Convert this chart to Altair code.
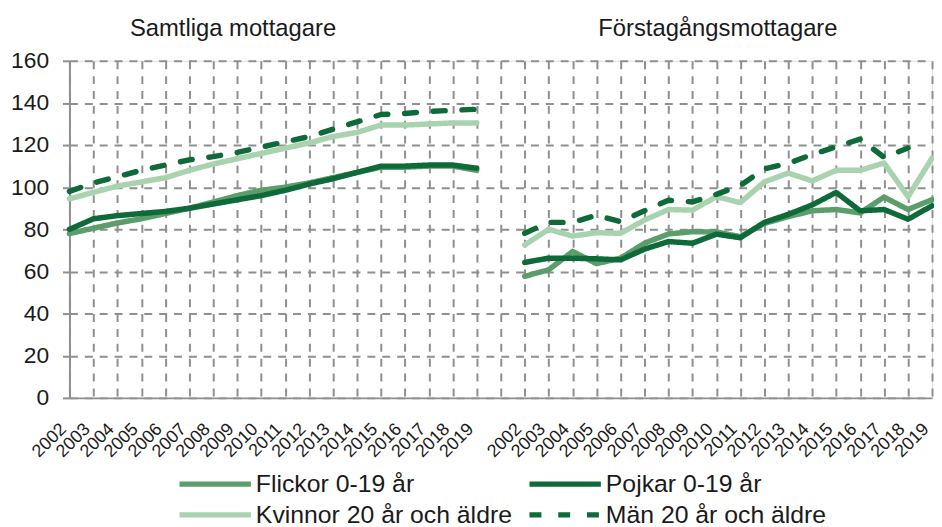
import altair as alt
import pandas as pd

years = [str(y) for y in range(2002, 2020)]
series = ["Flickor 0-19 år", "Pojkar 0-19 år", "Kvinnor 20 år och äldre", "Män 20 år och äldre"]
panel_titles = ["Samtliga mottagare", "Förstagångsmottagare"]

# Samtliga mottagare
flickor_s = [78, 80.5, 83, 85, 87.5, 90, 93, 96, 98.5, 100, 102, 104.5, 107, 109.5, 109.5, 110, 110, 108]
pojkar_s = [80, 85, 86.5, 87.5, 88.5, 90, 92, 94, 96, 98.5, 101.5, 104, 107, 110, 110, 110.5, 110.5, 109]
kvinnor_s = [94.5, 97.5, 100.5, 102.5, 104.5, 108, 111, 113.5, 116, 118.5, 121, 124, 126, 129.5, 129.5, 130, 130.5, 130.5]
man_s = [98, 102, 105, 108, 110.5, 113, 114.5, 116.5, 119, 121.5, 124, 127.5, 131, 134.5, 135, 136, 136.5, 137]

# Förstagångsmottagare
flickor_f = [57.7, 60.8, 69.5, 63.7, 66.3, 73.4, 77.8, 78.9, 78.7, 76.5, 82.8, 86, 88.8, 89.4, 87.8, 95.3, 89.4, 94.1]
pojkar_f = [64.3, 66.3, 66.3, 66, 65.5, 70.6, 74.2, 73.4, 77.7, 76, 83.3, 87.1, 91.6, 97.5, 88.8, 89.4, 84.8, 91.2]
kvinnor_f = [72.6, 80, 76.8, 78.4, 78.1, 84.4, 89.4, 89.1, 95.5, 92.7, 102.5, 106.7, 103, 108, 108, 111.5, 95.5, 113.8]
man_f = [78.1, 83.3, 83.3, 86.7, 83.6, 88.8, 93.8, 93, 96.6, 100.8, 108.7, 111.3, 115.5, 119.2, 122.8, 114.2, 118.6, None]

colors = ["#5b9d6b", "#0e6a38", "#a8d3ae", "#0e6a38"]
widths = [5.5, 5.5, 8, 5.5]
dashes = [[1, 0], [1, 0], [1, 0], [12, 17]]

gap_key = "G"
x_domain = ["S" + y for y in years] + [gap_key] + ["F" + y for y in years]

rows = []
for prefix, panel, vals_list in [
    ("S", "samtliga", [flickor_s, pojkar_s, kvinnor_s, man_s]),
    ("F", "forsta", [flickor_f, pojkar_f, kvinnor_f, man_f]),
]:
    for name, vals in zip(series, vals_list):
        for y, v in zip(years, vals):
            if v is not None:
                rows.append({"x": prefix + y, "panel": panel, "serie": name, "value": v})
df = pd.DataFrame(rows)

FONT = "Liberation Sans"
GRID = "#8f8f8f"
TXT = "#1a1a1a"

lines = alt.Chart(df).mark_line(strokeCap="round", strokeJoin="round").encode(
    x=alt.X(
        "x:O",
        sort=x_domain,
        scale=alt.Scale(type="point", domain=x_domain, padding=0),
        axis=alt.Axis(
            title=None,
            labelExpr="substring(datum.label, 1)",
            labelAngle=-45,
            labelAlign="right",
            labelBaseline="bottom",
            labelFontSize=18,
            labelPadding=35,
            tickSize=0,
            grid=True,
            gridDash=[8, 7],
            gridColor=GRID,
            gridWidth=2,
            domainColor=GRID,
            domainWidth=2,
            labelColor=TXT,
            labelFont=FONT,
        ),
    ),
    y=alt.Y(
        "value:Q",
        scale=alt.Scale(domain=[0, 160], nice=False),
        axis=alt.Axis(
            title=None,
            values=list(range(0, 161, 20)),
            labelFontSize=23,
            labelPadding=14,
            tickSize=7,
            tickColor=GRID,
            tickWidth=2,
            grid=True,
            gridDash=[8, 7],
            gridColor=GRID,
            gridWidth=2,
            domainColor=GRID,
            domainWidth=2,
            labelColor=TXT,
            labelFont=FONT,
        ),
    ),
    color=alt.Color(
        "serie:N",
        sort=series,
        scale=alt.Scale(domain=series, range=colors),
        legend=alt.Legend(
            title=None,
            values=series,
            orient="none",
            direction="horizontal",
            legendX=132,
            legendY=412,
            columns=2,
            columnPadding=6,
            rowPadding=3,
            symbolType="M-3,0H3",
            symbolSize=576,
            labelFontSize=25,
            labelFont=FONT,
            labelColor=TXT,
            labelOffset=26,
            labelLimit=500,
        ),
    ),
    strokeDash=alt.StrokeDash("serie:N", sort=series, scale=alt.Scale(domain=series, range=dashes), legend=None),
    strokeWidth=alt.StrokeWidth("serie:N", sort=series, scale=alt.Scale(domain=series, range=widths), legend=None),
    detail="panel:N",
)

titles_df = pd.DataFrame({"t": panel_titles, "px": [165, 654]})
titles = alt.Chart(titles_df).mark_text(fontSize=24, font=FONT, color=TXT, baseline="middle").encode(
    text="t:N",
    x=alt.X("px:Q", scale=None),
    y=alt.value(-32),
)

chart = alt.layer(lines, titles).properties(
    width=870,
    height=340,
    padding={"left": 62, "top": 51, "right": 2, "bottom": 128},
    autosize=alt.AutoSizeParams(type="none"),
).configure_view(stroke=None).configure(font=FONT)

chart.save("out.html", embed_options={"renderer": "svg", "actions": False})
